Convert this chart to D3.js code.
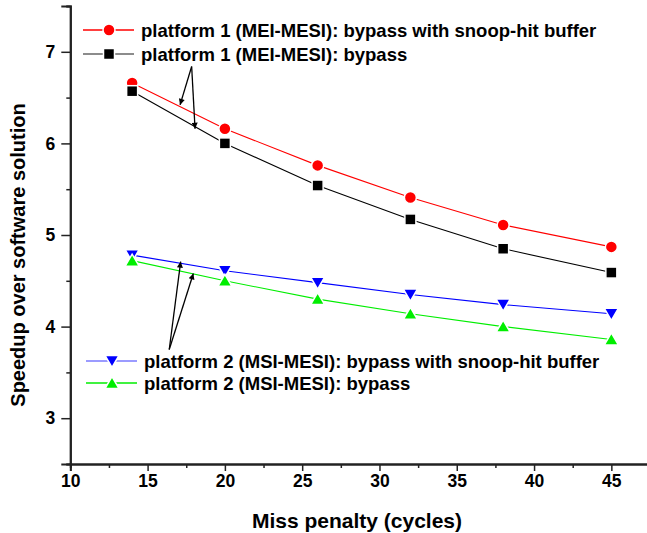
<!DOCTYPE html>
<html>
<head>
<meta charset="utf-8">
<script src="https://cdn.jsdelivr.net/npm/d3@7"></script>
<style>
  body { margin: 0; background: #fff; }
  text { font-family: "Liberation Sans", Arial, sans-serif; font-weight: bold; }
</style>
</head>
<body>
<div class="container"></div>
<script>
// miss penalty (cycles)
const penalty = [14, 20, 26, 32, 38, 45];

// speedup over software solution
const p1Snoop = [6.66, 6.16, 5.76, 5.41, 5.11, 4.87];
const p1Bypass = [6.57, 6.00, 5.54, 5.17, 4.85, 4.59];
const p2Snoop = [4.78, 4.61, 4.48, 4.35, 4.24, 4.14];
const p2Bypass = [4.72, 4.50, 4.30, 4.14, 4.00, 3.86];

const xTicks = [10, 15, 20, 25, 30, 35, 40, 45];
const yTicks = [3, 4, 5, 6, 7];

const seriesNames = [
  "platform 1 (MEI-MESI): bypass with snoop-hit buffer",
  "platform 1 (MEI-MESI): bypass",
  "platform 2 (MSI-MESI): bypass with snoop-hit buffer",
  "platform 2 (MSI-MESI): bypass"
];

// annotation arrows, [from, to] in data units
const arrows1 = [[[17.85, 6.84], [17.1, 6.42]], [[17.85, 6.84], [18.07, 6.16]]];
const arrows2 = [[[16.4, 3.75], [17.14, 4.71]], [[16.4, 3.75], [17.96, 4.58]]];

const w = 647, h = 533;

const x = d3.scaleLinear().domain([10, 47.5]).range([70.3, 650]);
const y = d3.scaleLinear().domain([2.5, 7.5]).range([464, 6]);

const svg = d3.select(".container").append("svg")
  .attr("width", w).attr("height", h);

svg.append("defs").append("marker")
  .attr("id", "head")
  .attr("viewBox", "0 0 10 10")
  .attr("refX", 10).attr("refY", 5)
  .attr("markerWidth", 13).attr("markerHeight", 6)
  .attr("markerUnits", "userSpaceOnUse")
  .attr("orient", "auto")
  .append("path").attr("d", "M0,0L10,5L0,10z").attr("fill", "#000");

// axes
svg.append("g").attr("transform", `translate(0,${y(2.5)})`)
  .call(d3.axisBottom(x).tickValues(xTicks).tickSize(7).tickPadding(4).tickFormat(d3.format("d")));
svg.append("g").attr("transform", `translate(0,${y(2.5)})`)
  .call(d3.axisBottom(x).tickValues(d3.range(12.5, 48, 5)).tickSize(4).tickFormat(""));
svg.append("g").attr("transform", `translate(${x(10)},0)`)
  .call(d3.axisLeft(y).tickValues(yTicks).tickSize(9).tickPadding(6).tickFormat(d3.format("d")));
svg.append("g").attr("transform", `translate(${x(10)},0)`)
  .call(d3.axisLeft(y).tickValues(d3.range(2.5, 7.6, 1)).tickSize(4).tickFormat(""));

svg.selectAll(".domain").attr("stroke", "#222").attr("stroke-width", 2);
svg.selectAll(".tick line").attr("stroke", "#222").attr("stroke-width", 1.5);
svg.selectAll(".tick text").attr("font-size", 17.5).attr("fill", "#000")
  .attr("font-family", "'Liberation Sans', Arial, sans-serif").attr("font-weight", "bold");

svg.append("text")
  .attr("x", 357).attr("y", 528)
  .attr("text-anchor", "middle").attr("font-size", 21)
  .text("Miss penalty (cycles)");

svg.append("text")
  .attr("transform", "translate(25,255) rotate(-90)")
  .attr("text-anchor", "middle").attr("font-size", 20)
  .text("Speedup over software solution");

// series
const series = [
  { vals: p1Snoop, color: "#ff0000", legColor: "#ff0000", shape: "circle" },
  { vals: p1Bypass, color: "#000000", legColor: "#666666", shape: "square" },
  { vals: p2Snoop, color: "#0000ff", legColor: "#7a7aff", shape: "down" },
  { vals: p2Bypass, color: "#00ee00", legColor: "#00ee00", shape: "up" }
];

const line = d3.line().x((d, i) => x(penalty[i])).y(d => y(d));

function drawMarker(g, shape, color, cx, cy) {
  if (shape === "circle") {
    g.append("circle").attr("cx", cx).attr("cy", cy).attr("r", 6)
      .attr("fill", color).attr("stroke", "#fff").attr("stroke-width", 1.5);
  } else if (shape === "square") {
    g.append("rect").attr("x", cx - 5.5).attr("y", cy - 5.5).attr("width", 11).attr("height", 11)
      .attr("fill", color).attr("stroke", "#fff").attr("stroke-width", 1.5);
  } else {
    const s = shape === "up" ? -1 : 1;
    g.append("path")
      .attr("d", `M${cx - 7},${cy - s * 5.5}L${cx + 7},${cy - s * 5.5}L${cx},${cy + s * 6.5}Z`)
      .attr("fill", color).attr("stroke", "#fff").attr("stroke-width", 1.5);
  }
}

series.forEach(s => {
  svg.append("path").datum(s.vals)
    .attr("d", line).attr("fill", "none")
    .attr("stroke", s.color).attr("stroke-width", 1.1);
});
series.forEach(s => {
  const g = svg.append("g");
  s.vals.forEach((v, i) => drawMarker(g, s.shape, s.color, x(penalty[i]), y(v)));
});

// arrows
[...arrows1, ...arrows2].forEach(a => {
  svg.append("line")
    .attr("x1", x(a[0][0])).attr("y1", y(a[0][1]))
    .attr("x2", x(a[1][0])).attr("y2", y(a[1][1]))
    .attr("stroke", "#000").attr("stroke-width", 1.3)
    .attr("marker-end", "url(#head)");
});

// legends
const legRows = [
  { i: 0, x0: 83, yy: 30 },
  { i: 1, x0: 83, yy: 54 },
  { i: 2, x0: 86, yy: 361 },
  { i: 3, x0: 86, yy: 383 }
];
legRows.forEach(r => {
  const s = series[r.i];
  const g = svg.append("g");
  g.append("line").attr("x1", r.x0).attr("x2", r.x0 + 51)
    .attr("y1", r.yy).attr("y2", r.yy)
    .attr("stroke", s.legColor).attr("stroke-width", 1.5);
  drawMarker(g, s.shape, s.color, r.x0 + 26, r.yy);
  g.append("text").attr("x", r.x0 + 58).attr("y", r.yy + 6.5)
    .attr("font-size", 18.5).text(seriesNames[r.i]);
});
</script>
</body>
</html>
